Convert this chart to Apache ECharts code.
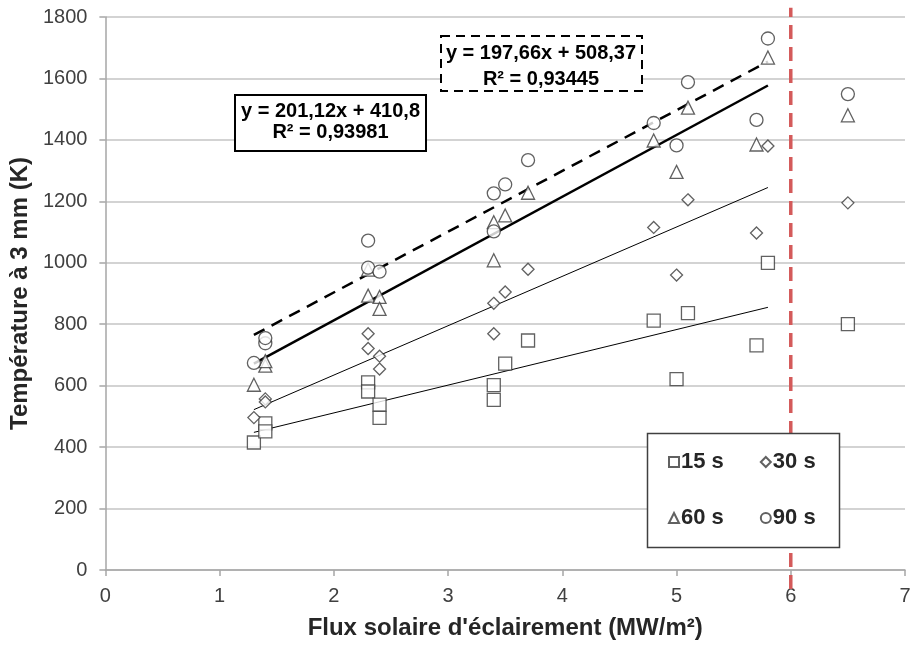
<!DOCTYPE html>
<html>
<head>
<meta charset="utf-8">
<script src="https://cdn.jsdelivr.net/npm/echarts@6/dist/echarts.min.js"></script>
<style>
html,body{margin:0;padding:0;background:#fff;}
#chart{width:914px;height:653px;}
</style>
</head>
<body>
<div id="chart"></div>
<script>
// ---- data ----
var xTicks = [0, 1, 2, 3, 4, 5, 6, 7];
var yTicks = [0, 200, 400, 600, 800, 1000, 1200, 1400, 1600, 1800];
var seriesNames = ['15 s', '30 s', '60 s', '90 s'];

var s15 = [[1.3,415],[1.4,477],[1.4,451],[2.3,611],[2.3,581],[2.4,538],[2.4,495],[3.4,602],[3.4,554],[3.5,672],[3.7,747],[4.8,812],[5.0,621],[5.1,836],[5.7,731],[5.8,1000],[6.5,800]];
var s30 = [[1.3,496],[1.4,557],[1.4,547],[2.3,769],[2.3,721],[2.4,696],[2.4,654],[3.4,868],[3.4,769],[3.5,905],[3.7,979],[4.8,1115],[5.0,960],[5.1,1205],[5.7,1097],[5.8,1380],[6.5,1195]];
var s60 = [[1.3,603],[1.4,665],[1.4,680],[2.3,893],[2.3,978],[2.4,889],[2.4,850],[3.4,1132],[3.4,1008],[3.5,1154],[3.7,1228],[4.8,1398],[5.0,1296],[5.1,1505],[5.7,1385],[5.8,1668],[6.5,1480]];
var s90 = [[1.3,674],[1.4,738],[1.4,755],[2.3,1072],[2.3,984],[2.4,971],[3.4,1226],[3.4,1102],[3.5,1255],[3.7,1334],[4.8,1455],[5.0,1382],[5.1,1588],[5.7,1465],[5.8,1730],[6.5,1549]];

var trend15 = [[1.3,448],[5.8,855]];
var trend30 = [[1.3,522],[5.8,1245]];
var trend60 = [[1.3,672],[5.8,1577]];
var trend90 = [[1.3,765],[5.8,1655]];
var limitLine = [[6,-62],[6,1830]];

var eq60 = ['y = 201,12x + 410,8', 'R² = 0,93981'];
var eq90 = ['y = 197,66x + 508,37', 'R² = 0,93445'];

var FONT = '"Liberation Sans", Arial, Helvetica, sans-serif';
var markerStyle = {color:'#ffffff', borderColor:'#3a3a3a', borderWidth:1.3};

function scatter(name, data, symbol, size){
  return {name:name, type:'scatter', data:data, symbol:symbol, symbolSize:size,
          itemStyle:markerStyle, z:5};
}
function trend(data, width, type){
  return {type:'line', data:data, symbol:'none', silent:true, z:4,
          lineStyle:{color:'#000', width:width, type:type}};
}
var legendText = {fontFamily:FONT, fontSize:22, fontWeight:'bold', color:'#262626', padding:[0,0,0,-3]};

var chart = echarts.init(document.getElementById('chart'));
chart.setOption({
  animation:false,
  backgroundColor:'#fff',
  grid:{left:105, right:9, top:17, bottom:83, containLabel:false},
  xAxis:{
    type:'value', min:xTicks[0], max:xTicks[xTicks.length-1], interval:1,
    name:"Flux solaire d'éclairement (MW/m²)", nameLocation:'middle', nameGap:46,
    nameTextStyle:{fontFamily:FONT, fontSize:24, fontWeight:'bold', color:'#262626'},
    axisLine:{lineStyle:{color:'#a6a6a6', width:1.5}},
    axisTick:{show:true, length:6, lineStyle:{color:'#a6a6a6', width:1.5}},
    axisLabel:{fontFamily:FONT, fontSize:20, color:'#404040', margin:16, formatter:function(v){return String(v);}},
    splitLine:{show:false}
  },
  yAxis:{
    type:'value', min:yTicks[0], max:yTicks[yTicks.length-1], interval:200,
    name:'Température à 3 mm (K)', nameLocation:'middle', nameGap:73,
    nameTextStyle:{fontFamily:FONT, fontSize:24, fontWeight:'bold', color:'#262626'},
    axisLine:{show:true, lineStyle:{color:'#a6a6a6', width:1.5}},
    axisTick:{show:true, length:6, lineStyle:{color:'#a6a6a6', width:1.5}},
    axisLabel:{fontFamily:FONT, fontSize:20, color:'#404040', margin:18, formatter:function(v){return String(v);}},
    splitLine:{show:true, lineStyle:{color:'#c4c4c4', width:1.5}}
  },
  legend:[
    {data:[seriesNames[0], seriesNames[1]], left:668, top:451, padding:0, itemGap:36,
     itemWidth:10, itemHeight:10, z:120, textStyle:legendText},
    {data:[seriesNames[2], seriesNames[3]], left:668, top:507, padding:0, itemGap:36,
     itemWidth:10, itemHeight:10, z:120, textStyle:legendText}
  ],
  graphic:[
    {type:'rect', z:100, shape:{x:647.5, y:433.5, width:192, height:114},
     style:{fill:'#fff', stroke:'#404040', lineWidth:1.5}},
    {type:'rect', z:100, shape:{x:235, y:95, width:191, height:56},
     style:{fill:'#fff', stroke:'#000', lineWidth:2}},
    {type:'text', z:101, x:330.5, y:111, style:{text:eq60[0], font:'bold 20px '+FONT, fill:'#000', textAlign:'center', textVerticalAlign:'middle'}},
    {type:'text', z:101, x:330.5, y:132, style:{text:eq60[1], font:'bold 20px '+FONT, fill:'#000', textAlign:'center', textVerticalAlign:'middle'}},
    {type:'rect', z:100, shape:{x:441, y:36, width:201, height:55},
     style:{fill:'#fff', stroke:'#000', lineWidth:2, lineDash:[9,6]}},
    {type:'text', z:101, x:541, y:53, style:{text:eq90[0], font:'bold 20px '+FONT, fill:'#000', textAlign:'center', textVerticalAlign:'middle'}},
    {type:'text', z:101, x:541, y:79, style:{text:eq90[1], font:'bold 20px '+FONT, fill:'#000', textAlign:'center', textVerticalAlign:'middle'}}
  ],
  series:[
    trend(trend15, 1, 'solid'),
    trend(trend30, 1, 'solid'),
    trend(trend60, 2.5, 'solid'),
    trend(trend90, 2.5, [12,8]),
    {type:'line', data:limitLine, symbol:'none', silent:true, clip:false, z:3,
     lineStyle:{color:'#d45a5a', width:3.5, type:[14,8]}},
    scatter(seriesNames[0], s15, 'rect', 13),
    scatter(seriesNames[1], s30, 'diamond', 12),
    scatter(seriesNames[2], s60, 'triangle', 13),
    scatter(seriesNames[3], s90, 'circle', 13)
  ]
});
</script>
</body>
</html>
